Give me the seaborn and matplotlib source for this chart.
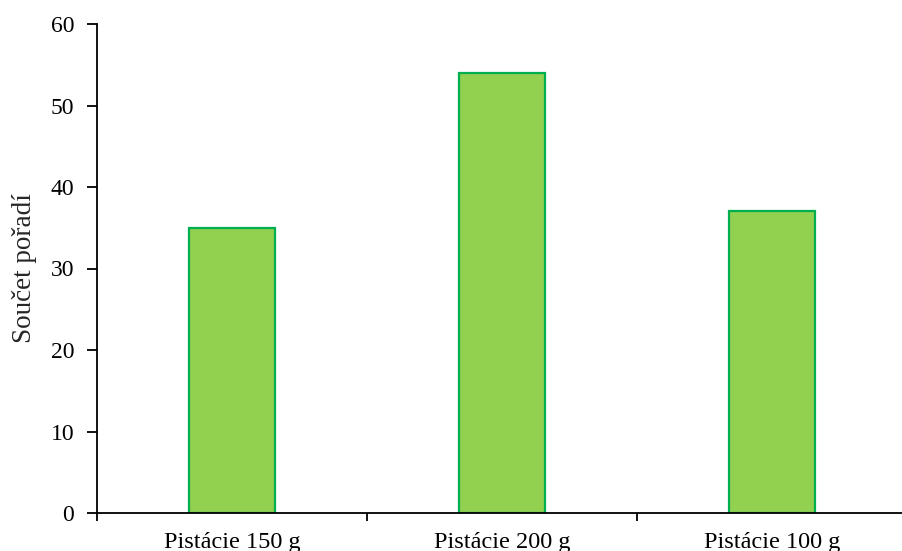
import matplotlib
matplotlib.use("Agg")
import matplotlib.pyplot as plt
import seaborn as sns
import pandas as pd

categories = ["Pistácie 150 g", "Pistácie 200 g", "Pistácie 100 g"]
values = [35, 54, 37]

sns.set_theme(style="white")
plt.rcParams["font.family"] = ["Liberation Serif", "DejaVu Serif"]

df = pd.DataFrame({"kategorie": categories, "soucet": values})

fig = plt.figure(figsize=(9.02, 5.51), dpi=100)
ax = fig.add_axes([97 / 902, 38 / 551, 810 / 902, 489 / 551])

sns.barplot(data=df, x="kategorie", y="soucet", ax=ax, width=0.32,
            color="#92D050", edgecolor="#00B050", linewidth=1.6,
            saturation=1)

ax.set_xlim(-0.5, 2.5)
ax.set_ylim(0, 60)
ax.set_yticks(range(0, 61, 10))
ax.set_xlabel("")
ax.set_ylabel("Součet pořadí", fontsize=19.5, labelpad=10)

for side in ("top", "right"):
    ax.spines[side].set_visible(False)
for side in ("left", "bottom"):
    ax.spines[side].set_color("black")
    ax.spines[side].set_linewidth(1.3)

ax.tick_params(axis="y", direction="out", length=7.5, width=1.3, colors="black",
               labelsize=17, pad=9, left=True)
ax.tick_params(axis="x", which="major", length=0, labelsize=17.5, pad=14,
               colors="black")
ax.set_xticks([-0.5, 0.5, 1.5, 2.5], minor=True)
ax.tick_params(axis="x", which="minor", direction="out", length=6, width=1.3,
               color="black", bottom=True)
ax.grid(False)

fig.savefig("out.png", dpi=100)
